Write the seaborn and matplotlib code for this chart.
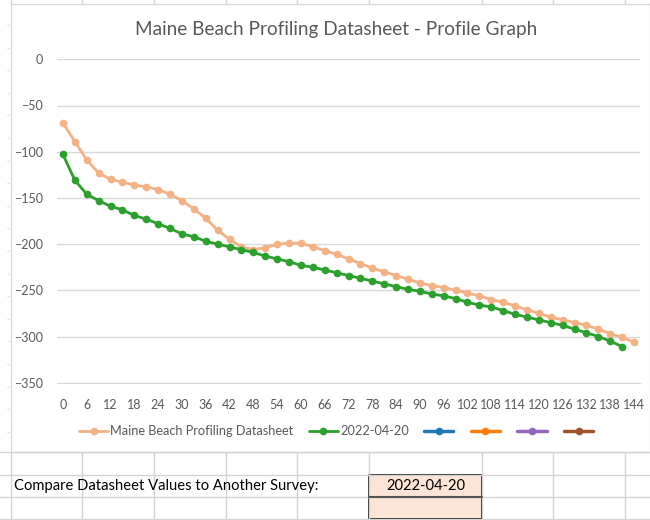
import numpy as np
import pandas as pd
import seaborn as sns
import matplotlib.pyplot as plt
from matplotlib.lines import Line2D
from matplotlib.patches import Rectangle

# distances along the profile (ft), one point every 3
distance = list(range(0, 145, 3))

datasheet_elev = [-69, -89, -109, -123, -130, -133, -136, -138, -141, -146,
                  -153, -162, -172, -185, -195, -203, -206, -204, -200, -199,
                  -199, -203, -207, -211, -216, -221, -226, -230, -234, -238,
                  -242, -245, -247, -250, -253, -256, -260, -263, -267, -271,
                  -275, -279, -282, -285, -288, -292, -297, -301, -306]

survey_elev = [-103, -131, -146, -153, -159, -163, -169, -173, -178, -183,
               -189, -192, -197, -200, -203, -206, -209, -213, -216, -219,
               -223, -225, -228, -231, -234, -237, -240, -243, -246, -249,
               -251, -254, -256, -259, -263, -266, -268, -272, -276, -279,
               -282, -285, -288, -292, -296, -300, -305, -311]

series_names = ["Maine Beach Profiling Datasheet", "2022-04-20"]
series_colors = ["#F4B183", "#2CA02C"]
empty_colors = ["#1F77B4", "#FF7F0E", "#9467BD", "#A0522D"]

x_ticks = list(range(0, 145, 6))
y_ticks = list(range(0, -351, -50))

title = "Maine Beach Profiling Datasheet - Profile Graph"
compare_label = "Compare Datasheet Values to Another Survey:"
compare_value = "2022-04-20"

df = pd.concat([
    pd.DataFrame({"Distance": distance, "Elevation": datasheet_elev, "Survey": series_names[0]}),
    pd.DataFrame({"Distance": distance[:len(survey_elev)], "Elevation": survey_elev, "Survey": series_names[1]}),
], ignore_index=True)

sns.set_style("white")
plt.rcParams['font.family'] = ['Lato', 'DejaVu Sans']

W, H = 650, 520
fig = plt.figure(figsize=(6.5, 5.2), dpi=100)

# spreadsheet background
bg = fig.add_axes([0, 0, 1, 1], zorder=0)
bg.set_xlim(0, W)
bg.set_ylim(H, 0)
bg.axis("off")
grid_c = "#D4D4D4"
col_x = [11, 82, 154, 226, 297, 369, 482, 553, 625]
row_y = [452, 474.5, 497, 519]
for cx in col_x:
    bg.plot([cx, cx], [0, 4], color=grid_c, lw=1)
    bg.plot([cx, cx], [452, H], color=grid_c, lw=1)
for ry in row_y:
    bg.plot([0, W], [ry, ry], color=grid_c, lw=1)
for ry in np.arange(25, 452, 22.6):
    bg.plot([7, 11], [ry, ry], color="#E6E6E6", lw=0.8)
bg.add_patch(Rectangle((11, 4), W - 11, 448, facecolor="white", edgecolor="#D9D9D9", lw=1))
bg.add_patch(Rectangle((369, 474.5), 113, 44.5, facecolor="#FCE4D6", edgecolor="black", lw=1.2))
bg.plot([369, 482], [497, 497], color="#555555", lw=1.5)
bg.text(14, 486, compare_label, fontsize=10.6, color="black", va="center", ha="left")
bg.text(425.5, 486, compare_value, fontsize=10.6, color="black", va="center", ha="center")

# chart
ax = fig.add_axes([57 / W, 1 - 382.7 / H, (640 - 57) / W, (382.7 - 59.3) / H], zorder=1)
sns.lineplot(data=df, x="Distance", y="Elevation", hue="Survey", palette=series_colors,
             marker="o", markersize=5.5, markeredgewidth=0, linewidth=2, legend=False, ax=ax)
ax.set_xlim(-1.5, 145.5)
ax.set_ylim(-350, 0)
ax.set_xticks(x_ticks)
ax.set_yticks(y_ticks)
ax.set_xlabel("")
ax.set_ylabel("")
ax.tick_params(axis="both", length=0, colors="#595959", labelsize=9)
ax.tick_params(axis="x", pad=12)
ax.tick_params(axis="y", pad=10)
ax.yaxis.grid(True, color="#D9D9D9", lw=1)
for s in ["left", "right", "top"]:
    ax.spines[s].set_visible(False)
ax.spines["bottom"].set_color("#D9D9D9")
ax.set_facecolor("none")

fig.text(336 / W, 1 - 30 / H, title, fontsize=13.7, color="#595959", ha="center", va="center")

handles = list(ax.get_lines()[:2])
for c in empty_colors:
    handles.append(Line2D([], [], color=c, marker="o", markersize=5.5, markeredgewidth=0, lw=2.5))
labels = series_names + [""] * len(empty_colors)
fig.legend(handles, labels, loc="center", bbox_to_anchor=(337 / W, 1 - 431 / H), ncol=6,
           frameon=False, fontsize=9.2, labelcolor="#595959", handlelength=2.3,
           handletextpad=0.15, columnspacing=1.2)

fig.savefig("out.png", dpi=100)
